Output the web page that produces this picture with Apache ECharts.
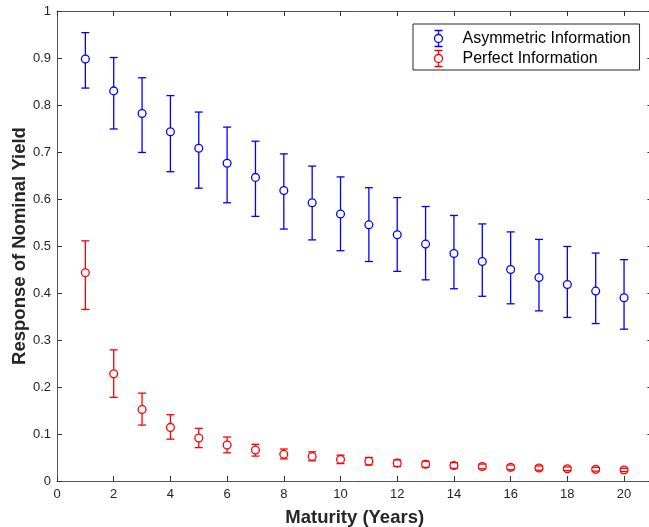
<!DOCTYPE html>
<html>
<head>
<meta charset="utf-8">
<title>Response of Nominal Yield</title>
<script src="https://cdn.jsdelivr.net/npm/echarts@6/dist/echarts.min.js"></script>
<style>
    html, body { margin: 0; padding: 0; background: #fff; }
    #chart { width: 649px; height: 527px; }
</style>
</head>
<body>
<div id="chart"></div>
<script>
    // maturities (years)
    var maturity = [1, 2, 3, 4, 5, 6, 7, 8, 9, 10, 11, 12, 13, 14, 15, 16, 17, 18, 19, 20];

    // asymmetric information: mean, upper and lower bands
    var asymMean  = [0.898, 0.830, 0.782, 0.743, 0.708, 0.676, 0.646, 0.618, 0.592, 0.568, 0.545, 0.524, 0.504, 0.484, 0.467, 0.450, 0.433, 0.418, 0.404, 0.390];
    var asymUpper = [0.954, 0.901, 0.858, 0.820, 0.785, 0.753, 0.723, 0.696, 0.670, 0.647, 0.624, 0.603, 0.584, 0.565, 0.547, 0.530, 0.514, 0.499, 0.485, 0.471];
    var asymLower = [0.836, 0.749, 0.699, 0.658, 0.623, 0.592, 0.563, 0.536, 0.513, 0.490, 0.467, 0.446, 0.428, 0.409, 0.393, 0.377, 0.362, 0.348, 0.335, 0.323];

    // perfect information
    var perfMean  = [0.443, 0.228, 0.152, 0.114, 0.0915, 0.0766, 0.066, 0.057, 0.052, 0.046, 0.042, 0.038, 0.0355, 0.033, 0.031, 0.029, 0.0277, 0.026, 0.0248, 0.0234];
    var perfUpper = [0.511, 0.279, 0.187, 0.141, 0.112, 0.0936, 0.078, 0.068, 0.062, 0.055, 0.050, 0.045, 0.042, 0.039, 0.036, 0.034, 0.032, 0.030, 0.029, 0.027];
    var perfLower = [0.365, 0.178, 0.119, 0.089, 0.071, 0.060, 0.053, 0.047, 0.043, 0.037, 0.034, 0.031, 0.029, 0.027, 0.026, 0.024, 0.023, 0.022, 0.021, 0.020];

    var seriesNames = ['Asymmetric Information', 'Perfect Information'];
    var seriesColors = ['#0000ff', '#ff0000'];

    var FONT = '"Liberation Sans", Arial, Helvetica, sans-serif';
    var errIcon = 'path://M0,0 L8,0 M4,0 L4,4 M4,12 L4,16 M0,16 L8,16 M4,4 A4,4 0 1,1 4,12 A4,4 0 1,1 4,4';

    function toRows(mean, lower, upper) {
        return maturity.map(function (m, i) { return [m, mean[i], lower[i], upper[i]]; });
    }

    // error bar + hollow circle
    function renderErr(params, api) {
        var c = api.coord([api.value(0), api.value(1)]);
        var pl = api.coord([api.value(0), api.value(2)]);
        var ph = api.coord([api.value(0), api.value(3)]);
        var color = api.visual('color');
        var r = 3.9, cap = 4;
        var st = { stroke: color, lineWidth: 1.3, fill: null };
        var kids = [];
        if (ph[1] < c[1] - r) {
            kids.push({ type: 'line', shape: { x1: c[0], y1: ph[1], x2: c[0], y2: c[1] - r }, style: st });
        }
        if (pl[1] > c[1] + r) {
            kids.push({ type: 'line', shape: { x1: c[0], y1: c[1] + r, x2: c[0], y2: pl[1] }, style: st });
        }
        kids.push({ type: 'line', shape: { x1: c[0] - cap, y1: ph[1], x2: c[0] + cap, y2: ph[1] }, style: st });
        kids.push({ type: 'line', shape: { x1: c[0] - cap, y1: pl[1], x2: c[0] + cap, y2: pl[1] }, style: st });
        kids.push({ type: 'circle', shape: { cx: c[0], cy: c[1], r: r }, style: st });
        return { type: 'group', children: kids };
    }

    var chart = echarts.init(document.getElementById('chart'));

    function axisLine() { return { show: true, onZero: false, lineStyle: { color: '#555', width: 1 } }; }
    function axisTick() { return { show: true, inside: true, length: 5, lineStyle: { color: '#333', width: 1 } }; }

    var option = {
        backgroundColor: '#fff',
        animation: false,
        textStyle: { fontFamily: FONT },
        grid: { left: 57, top: 11, right: -3.4, bottom: 46, containLabel: false, outerBoundsMode: 'none' },
        legend: {
            orient: 'vertical',
            left: 413, top: 24,
            padding: [4, 9, 1, 19],
            itemGap: -1,
            itemWidth: 38, itemHeight: 16,
            backgroundColor: '#fff',
            borderColor: '#262626', borderWidth: 1,
            textStyle: { fontFamily: FONT, fontSize: 16, lineHeight: 16, color: '#000' },
            data: seriesNames.map(function (n, i) {
                return { name: n, icon: errIcon,
                    itemStyle: { color: 'none', borderColor: seriesColors[i], borderWidth: 1.3 } };
            })
        },
        xAxis: [{
            type: 'value', min: 0, max: 21, interval: 2,
            name: 'Maturity (Years)', nameLocation: 'middle', nameGap: 27, nameMoveOverlap: false,
            nameTextStyle: { fontFamily: FONT, fontSize: 18.5, fontWeight: 'bold', color: '#262626' },
            axisLine: axisLine(), axisTick: axisTick(),
            axisLabel: { fontFamily: FONT, fontSize: 13, color: '#262626', margin: 7, showMaxLabel: false },
            splitLine: { show: false }
        }, {
            type: 'value', position: 'top', min: 0, max: 21, interval: 2,
            axisLine: axisLine(), axisTick: axisTick(),
            axisLabel: { show: false }, splitLine: { show: false }
        }],
        yAxis: [{
            type: 'value', min: 0, max: 1, interval: 0.1,
            name: 'Response of Nominal Yield', nameLocation: 'middle', nameGap: 28, nameMoveOverlap: false,
            nameTextStyle: { fontFamily: FONT, fontSize: 18.5, fontWeight: 'bold', color: '#262626' },
            axisLine: axisLine(), axisTick: axisTick(),
            axisLabel: { fontFamily: FONT, fontSize: 13, color: '#262626', margin: 6 },
            splitLine: { show: false }
        }, {
            type: 'value', position: 'right', min: 0, max: 1, interval: 0.1,
            axisLine: axisLine(), axisTick: axisTick(),
            axisLabel: { show: false }, splitLine: { show: false }
        }],
        series: [{
            name: seriesNames[0],
            type: 'custom',
            renderItem: renderErr,
            itemStyle: { color: seriesColors[0] },
            encode: { x: 0, y: [1, 2, 3] },
            data: toRows(asymMean, asymLower, asymUpper)
        }, {
            name: seriesNames[1],
            type: 'custom',
            renderItem: renderErr,
            itemStyle: { color: seriesColors[1] },
            encode: { x: 0, y: [1, 2, 3] },
            data: toRows(perfMean, perfLower, perfUpper)
        }]
    };

    chart.setOption(option);
</script>
</body>
</html>
